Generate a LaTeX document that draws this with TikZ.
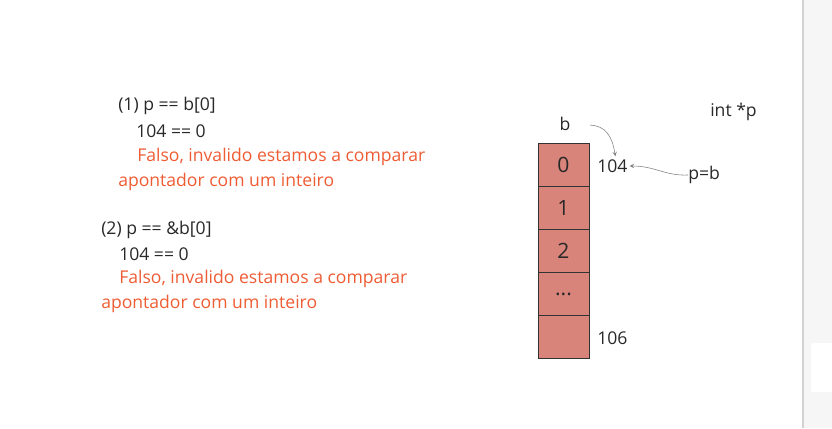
\documentclass[tikz,border=0pt]{standalone}
\usepackage{fontspec}
\setmainfont{Open Sans}
\usepackage{xcolor}
\usepackage{tikz}
\usetikzlibrary{arrows,positioning,calc}

\definecolor{cellred}{RGB}{216,132,122}
\definecolor{falsered}{RGB}{238,92,52}
\definecolor{textgray}{RGB}{40,40,40}

\tikzset{
  txt/.style={anchor=west, inner sep=0pt, text=textgray, font=\fontsize{12.5}{15}\selectfont},
  note/.style={txt, text=falsered},
  cell/.style={draw=black!80, fill=cellred, minimum width=1.275cm, minimum height=1.075cm,
    inner sep=0pt, outer sep=0pt, text=textgray, font=\fontsize{15}{18}\selectfont},
  link/.style={->, >=stealth, gray, thin}
}

\begin{document}
\begin{tikzpicture}[x=0.025cm, y=-0.025cm]
\useasboundingbox (0,0) rectangle (832,428);

% Side panel
\fill[gray!7] (803,0) rectangle (832,428);
\draw[gray!35, line width=1.2pt] (803,0) -- (803,428);
\fill[white] (811,343) rectangle (832,392);

% Case (1)
\node[txt] (c1) at (118,106) {(1) p == b[0]};
\node[txt] (c1val) at (136,131) {104 == 0};
\node[note] (c1a) at (137,157) {Falso, invalido estamos a comparar};
\node[note] (c1b) at (118,182) {apontador com um inteiro};

% Case (2)
\node[txt] (c2) at (101,230) {(2) p == \&b[0]};
\node[txt] (c2val) at (119,254) {104 == 0};
\node[note] (c2a) at (119,279) {Falso, invalido estamos a comparar};
\node[note] (c2b) at (101,304) {apontador com um inteiro};

% Array b
\node[cell] (b0) at (563.5,165) {0};
\node[cell, below=0pt of b0] (b1) {1};
\node[cell, below=0pt of b1] (b2) {2};
\node[cell, below=0pt of b2] (b3) {...};
\node[cell, below=0pt of b3] (b4) {};

% Labels
\node[txt, anchor=center] (bname) at (565,124) {b};
\node[txt] (decl) at (710,112) {int *p};
\node[txt] (addr0) at (597,166) {104};
\node[txt] (addr4) at (597,338) {106};
\node[txt] (assign) at (688,175) {p=b};

% Arrows
\coordinate (bfrom) at (590,125);
\draw[link] (bfrom) .. controls (605,126) and (612,135) .. ($(addr0.north)+(3,-3)$);
\draw[link] (assign.west) .. controls (665,176) and (655,166) .. ($(addr0.east)+(2,0)$);
\end{tikzpicture}
\end{document}
